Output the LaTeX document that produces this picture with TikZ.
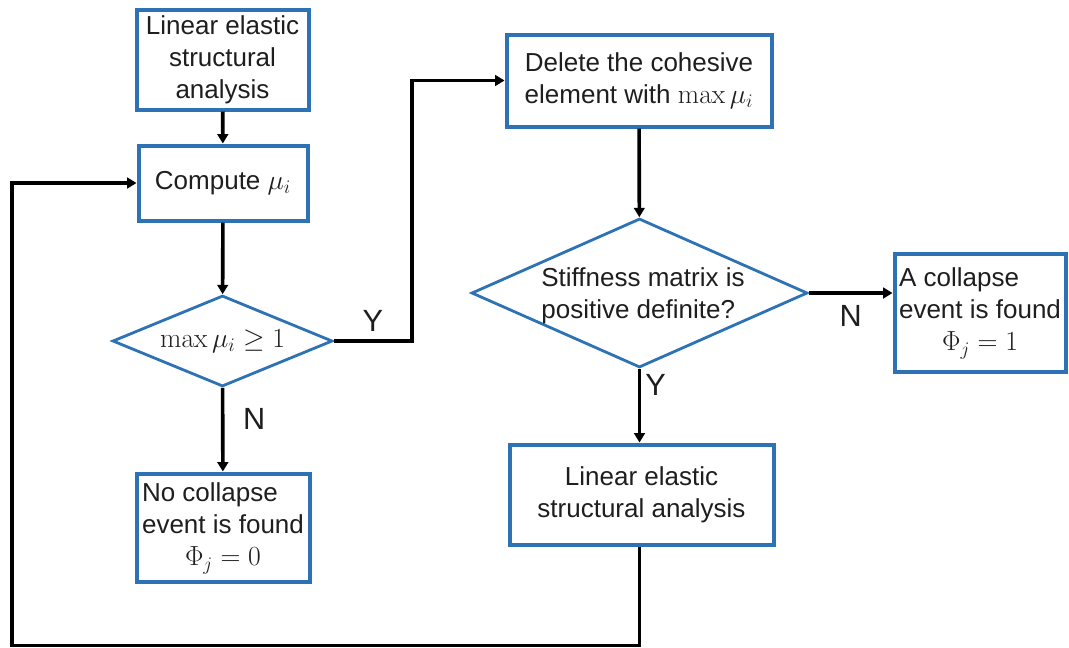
\documentclass[tikz,border=0pt]{standalone}
\usepackage[no-math]{fontspec}
\setmainfont{Liberation Sans}
\usetikzlibrary{arrows.meta,shapes.geometric}
\definecolor{boxblue}{RGB}{46,114,182}
\definecolor{ink}{RGB}{30,30,30}
\begin{document}
\begin{tikzpicture}[x=0.75pt,y=-0.75pt,
  txt/.style={font=\fontsize{19.5}{24}\selectfont,text=ink},
  box/.style={txt,draw=boxblue,line width=3pt,rectangle,inner sep=0pt,align=center},
  decision/.style={draw=boxblue,line width=2.1pt,diamond,inner sep=0pt,aspect=2},
  yn/.style={font=\fontsize{23}{26}\selectfont,text=ink,inner sep=0pt},
  flow/.style={line width=2.7pt,-{Triangle[length=7pt,width=8pt]}},
  wire/.style={line width=2.7pt}]
\useasboundingbox (0,0) rectangle (1069,647);

% left column
\node[box,minimum width=172*0.75pt,minimum height=100*0.75pt] (b1) at (222.5,59.5)
  {Linear elastic\\structural\\analysis};
\node[box,minimum width=169*0.75pt,minimum height=75*0.75pt] (b2) at (223,183)
  {Compute $\mu_i$};
\node[decision,minimum width=220*0.75pt,minimum height=91*0.75pt] (d1) at (222.5,341) {};
\node[txt,font=\fontsize{21}{24}\selectfont] at (d1) {$\max\mu_i\geq 1$};
\node[box,minimum width=173*0.75pt,minimum height=108*0.75pt] (b3) at (223,527.5)
  {\begin{tabular}{@{}l@{}}No collapse\\event is found\\\multicolumn{1}{@{}c@{}}{$\Phi_j=0$}\end{tabular}};

% right part
\node[box,minimum width=265*0.75pt,minimum height=92*0.75pt] (b4) at (639,80.5)
  {Delete the cohesive\\element with $\max\mu_i$};
\node[decision,minimum width=336*0.75pt,minimum height=149*0.75pt] (d2) at (639.5,293) {};
\node[txt,align=left] at (643,296) {Stiffness matrix is\\positive definite?};
\node[box,minimum width=171*0.75pt,minimum height=118*0.75pt] (b5) at (980,312.5)
  {\begin{tabular}{@{}l@{}}A collapse\\event is found\\\multicolumn{1}{@{}c@{}}{$\Phi_j=1$}\end{tabular}};
\node[box,minimum width=264*0.75pt,minimum height=100*0.75pt] (b6) at (641.5,494.5)
  {Linear elastic\\structural analysis};

\coordinate (corner) at (12,645.5);

% connectors
\draw[flow] (b1) -- (b2);
\draw[flow] (b2) -- (d1);
\draw[flow] (d1) -- (b3) node[yn,pos=0.37,right=14pt] {N};
\draw[flow] (d1.east) -- ++(78,0) node[yn,pos=0.5,above=6pt] {Y} |- (b4.west);
\draw[flow] (b4) -- (d2);
\draw[flow] (d2.east) -- (d2.east -| b5.west) node[yn,pos=0.5,below=8pt] {N};
\draw[flow] (d2.south) -- (d2.south |- b6.north) node[yn,pos=0.22,right=3pt] {Y};
\draw[flow] (b6.south -| d2.south) |- (corner) |- (b2.west);
\end{tikzpicture}
\end{document}
